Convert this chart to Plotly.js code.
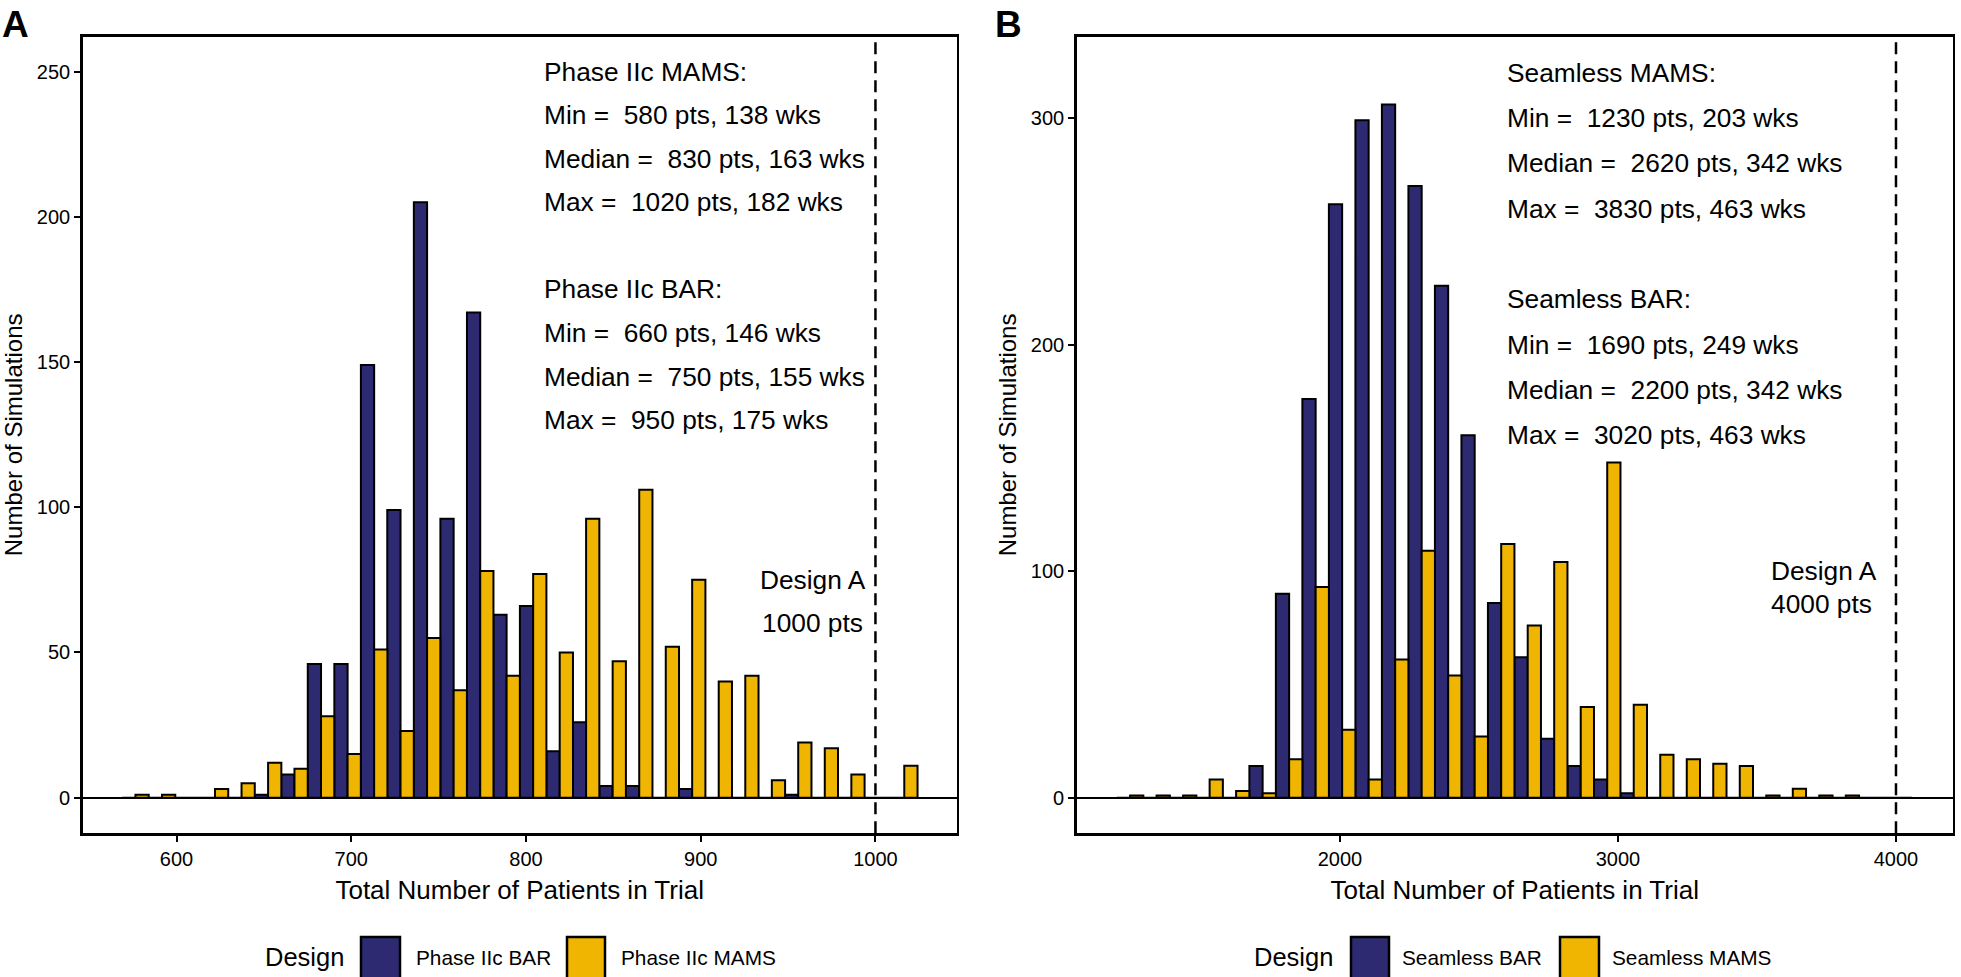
<!DOCTYPE html>
<html><head><meta charset="utf-8">
<script src="https://cdn.plot.ly/plotly-3.0.1.min.js"></script>
<style>html,body{margin:0;padding:0;background:#fff}#chart{width:1961px;height:977px}</style>
</head><body><div id="chart"></div>
<script>
// ---------- Panel A: Phase IIc ----------
const binCentersA = [576.5,591.7,606.8,622.0,637.2,652.4,667.5,682.7,697.9,713.1,728.2,743.4,758.6,773.8,788.9,804.1,819.3,834.4,849.6,864.8,880.0,895.1,910.3,925.5,940.7,955.8,971.0,986.2,1001.3,1016.5];
const binWidthA = 15.17;
const phaseBAR  = [0,0,0,0,0,1,8,46,46,149,99,205,96,167,63,66,16,26,4,4,0,3,0,0,0,1,0,0,0,0];
const phaseMAMS = [1,1,0,3,5,12,10,28,15,51,23,55,37,78,42,77,50,96,47,106,52,75,40,42,6,19,17,8,0,11];
const ticksXA = [600,700,800,900,1000];
const ticksYA = [0,50,100,150,200,250];
const designA_A = 1000;
const statsA = ["Phase IIc MAMS:","Min =\u00a0 580 pts, 138 wks","Median =\u00a0 830 pts, 163 wks","Max =\u00a0 1020 pts, 182 wks",
                "Phase IIc BAR:","Min =\u00a0 660 pts, 146 wks","Median =\u00a0 750 pts, 155 wks","Max =\u00a0 950 pts, 175 wks"];
const statsYA = [250,235,220,205,175,160,145,130];
const namesA = ["Phase IIc BAR","Phase IIc MAMS"];

// ---------- Panel B: Seamless ----------
const binCentersB = [1245.0,1340.4,1435.7,1531.1,1626.4,1721.8,1817.1,1912.5,2007.8,2103.2,2198.5,2293.9,2389.2,2484.6,2579.9,2675.3,2770.6,2866.0,2961.3,3056.7,3152.0,3247.4,3342.7,3438.1,3533.4,3628.8,3724.1,3819.5,3914.8,4010.2];
const binWidthB = 95.35;
const seamBAR  = [0,0,0,0,0,14,90,176,262,299,306,270,226,160,86,62,26,14,8,2,0,0,0,0,0,0,0,0,0,0];
const seamMAMS = [1,1,1,8,3,2,17,93,30,8,61,109,54,27,112,76,104,40,148,41,19,17,15,14,1,4,1,1,0,0];
const ticksXB = [2000,3000,4000];
const ticksYB = [0,100,200,300];
const designA_B = 4000;
const statsB = ["Seamless MAMS:","Min =\u00a0 1230 pts, 203 wks","Median =\u00a0 2620 pts, 342 wks","Max =\u00a0 3830 pts, 463 wks",
                "Seamless BAR:","Min =\u00a0 1690 pts, 249 wks","Median =\u00a0 2200 pts, 342 wks","Max =\u00a0 3020 pts, 463 wks"];
const statsYB = [320,300,280,260,220,200,180,160];
const namesB = ["Seamless BAR","Seamless MAMS"];

const BLUE = "#2E2A72", GOLD = "#EFB500";
const W = 1961, H = 977;
const px = v => v / W, py = v => 1 - v / H;

function bars(x, y, w, off, color, name, xa, ya) {
  return {type:'bar', x:x, y:y, width:w/2, offset:off, name:name, xaxis:xa, yaxis:ya,
    marker:{color:color, line:{color:'#000', width:2}}, showlegend:false, hoverinfo:'x+y+name'};
}
const data = [
  bars(binCentersA, phaseBAR,  binWidthA, -binWidthA/2, BLUE, namesA[0], 'x', 'y'),
  bars(binCentersA, phaseMAMS, binWidthA, 0,            GOLD, namesA[1], 'x', 'y'),
  bars(binCentersB, seamBAR,   binWidthB, -binWidthB/2, BLUE, namesB[0], 'x2', 'y2'),
  bars(binCentersB, seamMAMS,  binWidthB, 0,            GOLD, namesB[1], 'x2', 'y2')
];

const axBase = {ticks:'outside', ticklen:6, tickwidth:2, tickcolor:'#000', showline:true, mirror:true,
  linewidth:2.5, linecolor:'#000', showgrid:false, tickfont:{size:20, color:'#000'}, automargin:false};
const yDom = [py(833.3), py(36.5)];

const annotations = [];
const txt = (text, x, y, xref, yref, size, xanchor, extra) =>
  annotations.push(Object.assign({text:text, x:x, y:y, xref:xref, yref:yref, showarrow:false,
    xanchor:xanchor, yanchor:'middle', font:{size:size, color:'#000'}}, extra || {}));

statsA.forEach((s,i) => txt(s, 809, statsYA[i], 'x', 'y', 26.3, 'left'));
statsB.forEach((s,i) => txt(s, 2594, statsYB[i], 'x2', 'y2', 26.3, 'left'));
txt('Design A', 964, 75, 'x', 'y', 26.3, 'center');
txt(designA_A + ' pts', 964, 60, 'x', 'y', 26.3, 'center');
txt('Design A', 3544, 100, 'x2', 'y2', 26.3, 'left');
txt(designA_B + ' pts', 3544, 85.5, 'x2', 'y2', 26.3, 'left');
txt('<b>A</b>', px(0), py(25), 'paper', 'paper', 37, 'left');
txt('<b>B</b>', px(993), py(25), 'paper', 'paper', 37, 'left');

// legends (drawn as keys + labels)
const shapes = [
  {type:'line', xref:'x', yref:'y domain', x0:designA_A, x1:designA_A, y0:0, y1:1, line:{color:'#000', width:2.5, dash:'12px,7px'}},
  {type:'line', xref:'x2', yref:'y2 domain', x0:designA_B, x1:designA_B, y0:0, y1:1, line:{color:'#000', width:2.5, dash:'12px,7px'}}
];
function legend(xDesign, keys, labels) {
  txt('Design', px(xDesign), py(957), 'paper', 'paper', 25.5, 'left');
  keys.forEach((k,i) => {
    shapes.push({type:'rect', xref:'paper', yref:'paper', x0:px(k[0]), x1:px(k[1]), y0:py(937), y1:py(990),
      fillcolor: i === 0 ? BLUE : GOLD, line:{color:'#000', width:2.5}});
    txt(labels[i], px(k[2]), py(957), 'paper', 'paper', 20.8, 'left');
  });
}
legend(263, [[361,400,414],[567,605,619]], namesA);
legend(1252, [[1351,1389,1400],[1560,1599,1610]], namesB);

const layout = {
  width:W, height:H, margin:{l:0,r:0,t:0,b:0}, paper_bgcolor:'#fff', plot_bgcolor:'#fff',
  font:{family:'Liberation Sans, Arial, Helvetica, sans-serif', color:'#000'},
  barmode:'overlay', showlegend:false,
  xaxis: Object.assign({}, axBase, {domain:[px(82.7), px(956.7)], range:[546.3,1046.5], tickvals:ticksXA,
    zeroline:false, anchor:'y', title:{text:'Total Number of Patients in Trial', font:{size:26}, standoff:12}}),
  yaxis: Object.assign({}, axBase, {domain:yDom, range:[-12.26,262.05], tickvals:ticksYA, anchor:'x',
    zeroline:true, zerolinecolor:'#000', zerolinewidth:2, title:{text:'Number of Simulations', font:{size:24}, standoff:8}}),
  xaxis2: Object.assign({}, axBase, {domain:[px(1076.7), px(1952.7)], range:[1053,4204], tickvals:ticksXB,
    zeroline:false, anchor:'y2', title:{text:'Total Number of Patients in Trial', font:{size:26}, standoff:12}}),
  yaxis2: Object.assign({}, axBase, {domain:yDom, range:[-15.7,336], tickvals:ticksYB, anchor:'x2',
    zeroline:true, zerolinecolor:'#000', zerolinewidth:2, title:{text:'Number of Simulations', font:{size:24}, standoff:8}}),
  annotations: annotations, shapes: shapes
};
Plotly.newPlot('chart', data, layout, {displayModeBar:false, staticPlot:true});
</script></body></html>
